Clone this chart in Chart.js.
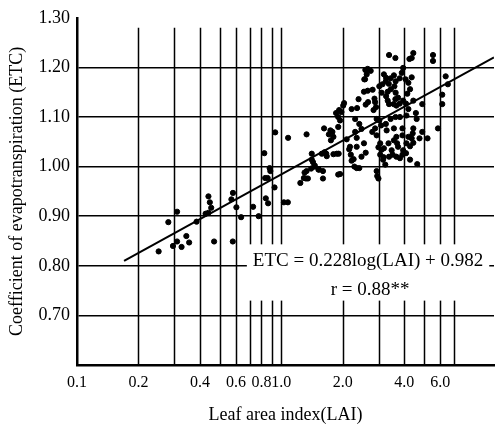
<!DOCTYPE html>
<html>
<head>
<meta charset="utf-8">
<script src="https://cdn.jsdelivr.net/npm/chart.js@4/dist/chart.umd.min.js"></script>
<style>
  body { margin: 0; background: #fff; }
  #wrap { width: 498px; height: 432px; }
</style>
</head>
<body>
<div id="wrap"><canvas id="etcChart" width="498" height="432"></canvas></div>
<script>
//observed points, leaf area index (x) and ETC (y)
const laiValues = [
  0.251, 0.28, 0.309, 0.295, 0.309, 0.325, 0.343, 0.354, 0.385, 0.44,
  0.447, 0.454, 0.44, 0.469, 0.579, 0.603, 0.636, 0.57, 0.58, 0.426,
  0.728, 0.775, 0.826, 0.834, 0.858, 0.884, 0.927, 0.934, 1.08, 1.24,
  0.84, 0.862, 1.03, 1.077, 0.877, 1.33, 1.41, 1.66, 1.87, 1.43,
  1.45, 1.40, 1.33, 1.32, 1.35, 1.60, 1.90, 1.53, 1.67, 1.62,
  1.78, 1.80, 1.75, 1.90, 1.94, 1.855, 2.03, 1.92, 2.09, 2.15,
  2.19, 2.28, 2.34, 2.26, 2.21, 2.35, 2.39, 2.30, 2.41, 2.47,
  2.30, 2.34, 2.54, 2.59, 2.47, 2.41, 2.54, 2.59, 2.66, 2.65,
  2.57, 2.62, 2.74, 2.80, 2.88, 2.86, 2.91, 2.83, 2.93, 2.88,
  2.79, 2.93, 3.02, 3.08, 3.25, 3.28, 3.43, 3.63, 3.81, 3.56,
  3.05, 2.99, 3.10, 3.18, 3.35, 3.56, 3.66, 3.92, 3.92, 4.10,
  4.19, 4.08, 3.95, 3.80, 3.66, 3.73, 3.62, 3.55, 3.37, 3.32,
  3.26, 3.32, 3.44, 3.58, 3.63, 3.10, 3.02, 3.13, 3.25, 3.36,
  3.43, 3.56, 3.63, 3.80, 3.89, 3.95, 4.06, 4.19, 4.35, 4.27,
  4.14, 4.43, 4.56, 4.60, 4.90, 4.90, 4.75, 5.20, 5.85, 6.14,
  6.14, 6.54, 6.38, 5.53, 5.53, 4.43, 4.35, 4.24, 3.37, 3.62,
  4.63, 4.27, 4.08, 3.95, 4.10, 4.27, 4.43, 4.19, 3.47, 3.51,
  3.37, 3.17, 3.23, 3.15, 3.05, 3.66, 3.73, 3.81, 3.92, 4.35,
  4.40, 4.43, 3.69, 2.93, 2.99, 2.95, 2.58, 2.65, 2.55, 3.18,
  3.26, 1.74, 1.71, 1.90, 1.97, 2.01, 1.91, 1.80, 1.63, 1.58,
  1.41, 1.46, 1.30, 1.52, 1.60, 1.29, 1.94, 2.21, 2.17, 2.34
];
const etcValues = [
  0.829, 0.888, 0.909, 0.84, 0.849, 0.838, 0.86, 0.847, 0.889, 0.94,
  0.928, 0.917, 0.907, 0.849, 0.849, 0.918, 0.898, 0.934, 0.947, 0.905,
  0.919, 0.90, 1.027, 0.977, 0.977, 0.991, 0.958, 1.069, 1.058, 0.967,
  0.936, 0.926, 0.928, 0.928, 0.997, 1.065, 1.026, 1.026, 1.026, 1.009,
  1.0, 0.996, 0.991, 0.976, 0.976, 0.976, 0.984, 0.994, 1.021, 1.077,
  1.07, 1.06, 1.053, 1.08, 1.093, 1.108, 1.128, 1.114, 1.055, 1.035,
  1.024, 1.0, 0.997, 1.015, 1.012, 1.118, 1.136, 1.096, 1.086, 1.076,
  1.07, 1.058, 1.047, 1.028, 1.02, 0.997, 1.151, 1.125, 1.13, 1.153,
  1.176, 1.186, 1.193, 1.155, 1.13, 1.137, 1.12, 1.114, 1.096, 1.077,
  1.07, 1.063, 1.093, 1.083, 1.086, 1.073, 1.096, 1.10, 1.10, 1.077,
  1.047, 1.039, 1.034, 1.037, 1.047, 1.053, 1.06, 1.077, 1.063, 1.103,
  1.116, 1.127, 1.133, 1.127, 1.123, 1.139, 1.136, 1.126, 1.126, 1.133,
  1.142, 1.151, 1.156, 1.162, 1.149, 1.149, 1.162, 1.166, 1.172, 1.167,
  1.178, 1.184, 1.172, 1.178, 1.189, 1.199, 1.176, 1.169, 1.18, 1.156,
  1.147, 1.133, 1.108, 1.096, 1.126, 1.07, 1.057, 1.057, 1.077, 1.145,
  1.126, 1.166, 1.182, 1.225, 1.213, 1.229, 1.219, 1.217, 1.225, 1.219,
  1.005, 1.014, 1.027, 1.033, 1.047, 1.041, 1.048, 1.06, 1.033, 1.024,
  1.02, 1.019, 1.004, 1.014, 1.024, 1.02, 1.04, 1.017, 1.024, 1.057,
  1.067, 1.077, 1.047, 0.991, 0.976, 0.981, 1.195, 1.197, 1.176, 1.186,
  1.179, 1.073, 1.065, 1.10, 1.11, 1.123, 1.026, 1.025, 1.029, 1.026,
  1.014, 1.002, 0.988, 0.994, 0.991, 0.977, 0.985, 1.116, 1.04, 1.04
];

//fitted line ends
const fitLai = [0.17, 11];
const fitEtc = [0.81, 1.22];

//axes
const xGridValues = [0.1, 0.2, 0.3, 0.4, 0.5, 0.6, 0.7, 0.8, 0.9, 1, 2, 3, 4, 5, 6, 7];
const xLabelValues = [0.1, 0.2, 0.4, 0.6, 0.8, 1, 2, 4, 6];
const xLabelTexts = ['0.1', '0.2', '0.4', '0.6', '0.8', '1.0', '2.0', '4.0', '6.0'];
const yTickValues = [0.6, 0.7, 0.8, 0.9, 1.0, 1.1, 1.2, 1.3];

const eqnText = 'ETC = 0.228log(LAI) + 0.982';
const rText = 'r = 0.88**';

const SERIF = '"Liberation Serif", "DejaVu Serif", serif';

const scatterPoints = laiValues.map((v, i) => ({x: v, y: etcValues[i]}));
const fitPoints = fitLai.map((v, i) => ({x: v, y: fitEtc[i]}));

//vertical grid lines stop a little below the top of the frame,
//then a white box with the regression equation goes over them
const gridAndLabel = {
  id: 'gridAndLabel',
  beforeDatasetsDraw(chart) {
    const ctx = chart.ctx;
    const xs = chart.scales.x, ys = chart.scales.y;
    const area = chart.chartArea;
    ctx.save();
    ctx.strokeStyle = '#000';
    ctx.lineWidth = 1.5;
    const yTop = ys.getPixelForValue(1.28);
    xGridValues.forEach(v => {
      if (v <= 0.1) return;
      const px = Math.round(xs.getPixelForValue(v)) + 0.5;
      ctx.beginPath();
      ctx.moveTo(px, yTop);
      ctx.lineTo(px, area.bottom);
      ctx.stroke();
    });

    const cx = xs.getPixelForValue(2.66);
    const y1 = ys.getPixelForValue(0.809);
    const y2 = ys.getPixelForValue(0.752);
    ctx.font = '19px ' + SERIF;
    const w = ctx.measureText(eqnText).width;
    ctx.fillStyle = '#fff';
    ctx.fillRect(cx - w / 2 - 6, y1 - 17, w + 12, y2 - y1 + 28);
    ctx.fillStyle = '#000';
    ctx.textAlign = 'center';
    ctx.textBaseline = 'middle';
    ctx.fillText(eqnText, cx, y1);
    ctx.fillText(rText, cx + 2, y2);
    ctx.restore();
  }
};

const etcChart = new Chart(document.getElementById('etcChart'), {
  type: 'scatter',
  data: {
    datasets: [{
      label: 'observed',
      data: scatterPoints,
      backgroundColor: '#000',
      borderColor: '#000',
      pointRadius: 2.6,
      pointHoverRadius: 2.6,
      order: 2
    },
    {
      label: 'fit',
      type: 'line',
      data: fitPoints,
      borderColor: '#000',
      borderWidth: 2,
      pointRadius: 0,
      fill: false,
      order: 1
    }]
  },
  options: {
    responsive: false,
    animation: false,
    events: [],
    layout: {padding: {top: 12, right: 4, left: 0, bottom: 0}},
    plugins: {
      legend: {display: false},
      tooltip: {enabled: false}
    },
    scales: {
      x: {
        type: 'logarithmic',
        min: 0.1,
        max: 11,
        afterFit: function(scale) { scale.height = 67; },
        afterBuildTicks: function(scale) {
          scale.ticks = xGridValues.map(v => ({value: v}));
        },
        border: {display: true, color: '#000', width: 2.5},
        grid: {drawOnChartArea: false, drawTicks: false},
        ticks: {
          autoSkip: false,
          maxRotation: 0,
          padding: 8,
          color: '#000',
          font: {family: SERIF, size: 16},
          callback: function(value) {
            const k = xLabelValues.findIndex(v => Math.abs(v - value) < 1e-6);
            return k >= 0 ? xLabelTexts[k] : '';
          }
        },
        title: {
          display: true,
          text: 'Leaf area index(LAI)',
          color: '#000',
          font: {family: SERIF, size: 18},
          padding: {top: 0, bottom: 6}
        }
      },
      y: {
        type: 'linear',
        min: 0.6,
        max: 1.3,
        afterFit: function(scale) { scale.width = 77; },
        afterBuildTicks: function(scale) {
          scale.ticks = yTickValues.map(v => ({value: v}));
        },
        border: {display: true, color: '#000', width: 2.5},
        grid: {
          lineWidth: 1.5,
          drawTicks: false,
          color: function(c) {
            return (c.tick && c.tick.value > 1.29) ? 'rgba(0,0,0,0)' : '#000';
          }
        },
        ticks: {
          padding: 7,
          color: '#000',
          font: {family: SERIF, size: 18},
          callback: function(value) {
            return value < 0.65 ? '' : value.toFixed(2);
          }
        },
        title: {
          display: true,
          text: 'Coefficient of evapotranspiration (ETC)',
          color: '#000',
          font: {family: SERIF, size: 18},
          padding: {top: 6, bottom: 0}
        }
      }
    }
  },
  plugins: [gridAndLabel]
});
</script>
</body>
</html>
